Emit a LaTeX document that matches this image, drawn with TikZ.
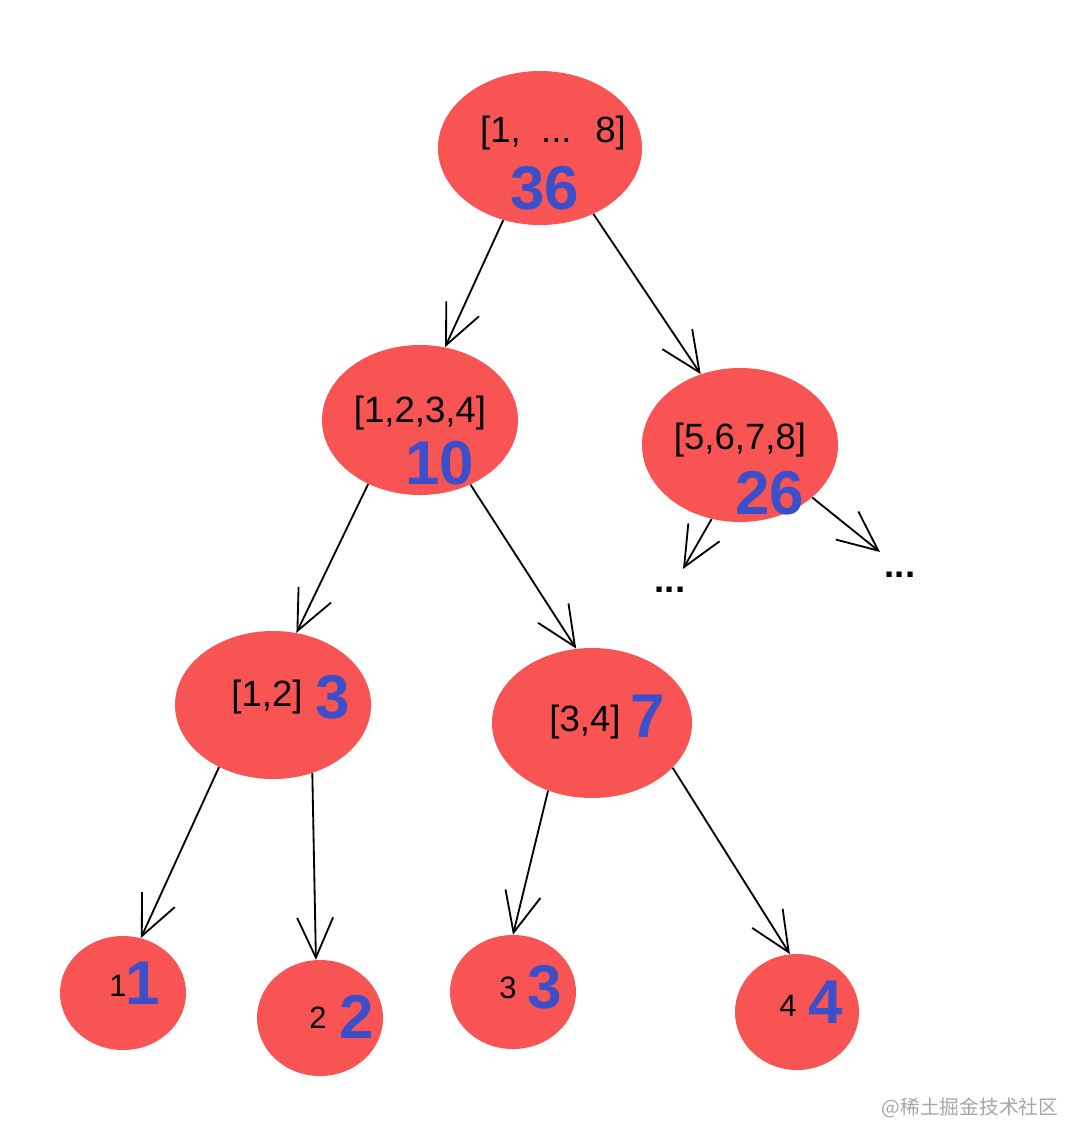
\documentclass[tikz,border=0pt]{standalone}
\usepackage{fontspec}
\setmainfont{Liberation Sans}
\newfontfamily\cjkfont{Noto Sans CJK SC}
\usetikzlibrary{arrows.meta,shapes.geometric}
\definecolor{segred}{RGB}{248,84,84}
\definecolor{sumblue}{RGB}{58,79,201}

\begin{document}
\begin{tikzpicture}[x=0.025cm,y=-0.025cm,>=Latex,
seg/.style={ellipse,fill=segred,inner sep=0pt},
range text/.style={font=\fontsize{26}{28}\selectfont,inner sep=0pt},
leaf text/.style={font=\fontsize{22}{24}\selectfont,inner sep=0pt},
sum text/.style={text=sumblue,font=\fontsize{44}{46}\selectfont\bfseries,inner sep=0pt},
flow/.style={-{Straight Barb[length=10mm,width=9mm]},line width=1.3pt}]
\useasboundingbox (0,0) rectangle (1080,1147);
% segment nodes
\node[seg,minimum width=5.1cm,minimum height=3.85cm] (root) at (540,148) {};
\node[seg,minimum width=4.9cm,minimum height=3.75cm] (s12) at (420,420) {};
\node[seg,minimum width=4.9cm,minimum height=3.85cm] (s58) at (740,445) {};
\node[seg,minimum width=4.9cm,minimum height=3.7cm] (s1) at (273,705) {};
\node[seg,minimum width=5.0cm,minimum height=3.75cm] (s3) at (592,723) {};
\node[seg,minimum width=3.15cm,minimum height=2.85cm] (l1) at (123,993) {};
\node[seg,minimum width=3.15cm,minimum height=2.9cm] (l2) at (320,1018) {};
\node[seg,minimum width=3.15cm,minimum height=2.85cm] (l3) at (513,992) {};
\node[seg,minimum width=3.1cm,minimum height=2.9cm] (l4) at (797,1012) {};
% labels
\node[range text] (root range) at (553,133) {[1, \ ... \ 8]};
\node[sum text] (root sum) at (545,188) {36};
\node[range text] (s12 range) at (420,413) {[1,2,3,4]};
\node[sum text] (s12 sum) at (440,463) {10};
\node[range text] (s58 range) at (740,440) {[5,6,7,8]};
\node[sum text] (s58 sum) at (770,493) {26};
\node[range text] (s1 range) at (267,697) {[1,2]};
\node[sum text] (s1 sum) at (333,697) {3};
\node[range text] (s3 range) at (585,722) {[3,4]};
\node[sum text] (s3 sum) at (648,716) {7};
\node[leaf text] (l1 key) at (118,986) {1};
\node[sum text] (l1 sum) at (143,983) {1};
\node[leaf text] (l2 key) at (318,1018) {2};
\node[sum text] (l2 sum) at (357,1017) {2};
\node[leaf text] (l3 key) at (508,988) {3};
\node[sum text] (l3 sum) at (545,987) {3};
\node[leaf text] (l4 key) at (788,1006) {4};
\node[sum text] (l4 sum) at (826,1002) {4};
\node[range text,font=\fontsize{26}{28}\selectfont\bfseries] (dots left) at (670,590) {...};
\node[range text,font=\fontsize{26}{28}\selectfont\bfseries] (dots right) at (900,575) {...};
% edges
\draw[flow] (root.243) -- (s12.71);
\draw[flow] (root.309) -- (s58.119);
\draw[flow] (s12.231) -- (s1.72);
\draw[flow] (s12.308) -- (s3.102);
\draw[flow] (s58.249) -- ([shift={(13,-18)}]dots left.north);
\draw[flow] (s58.324) -- ([shift={(-20,-20)}]dots right.north);
\draw[flow] (s1.229) -- (l1.72);
\draw[flow] (s1.300) -- (l2.94);
\draw[flow] (s3.237) -- (l3.90);
\draw[flow] (s3.331) -- (l4.97);
\node[text=black!35,font=\cjkfont\fontsize{14}{16}\selectfont] (mark) at (970,1108) {@稀土掘金技术社区};
\end{tikzpicture}
\end{document}
